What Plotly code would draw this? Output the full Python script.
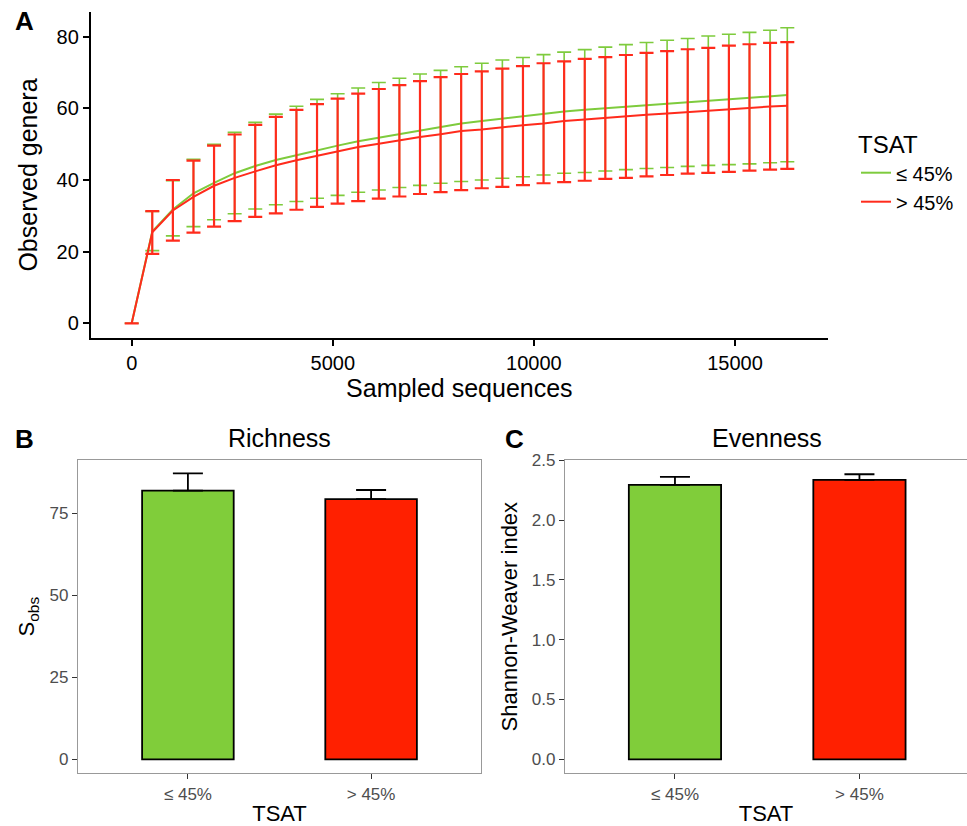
import plotly.graph_objects as go

W, H = 967, 826

# ---------------- Panel A data (rarefaction) ----------------
seqs = [0, 512, 1024, 1536, 2048, 2560, 3072, 3584, 4096, 4608, 5120, 5632, 6144, 6656,
        7168, 7680, 8192, 8704, 9216, 9728, 10240, 10752, 11264, 11776, 12288, 12800,
        13312, 13824, 14336, 14848, 15360, 15872, 16300]

low_mean = [0, 25.6, 31.8, 36.3, 39.2, 41.9, 43.9, 45.6, 46.9, 48.3, 49.6, 50.8, 51.8, 52.9,
            53.9, 54.9, 55.8, 56.5, 57.2, 57.9, 58.4, 59.1, 59.6, 60.1, 60.5, 60.9,
            61.3, 61.7, 62.0, 62.4, 62.8, 63.4, 63.7]
low_lower = [0, 20.3, 24.4, 27.0, 28.9, 30.6, 31.9, 33.1, 34.0, 34.9, 35.7, 36.6, 37.2, 37.9,
             38.5, 39.1, 39.6, 40.0, 40.5, 40.9, 41.4, 41.9, 42.1, 42.5, 42.9, 43.2,
             43.5, 43.8, 44.1, 44.3, 44.5, 44.8, 45.1]
low_upper = [0, 31.2, 39.8, 45.8, 50.0, 53.3, 56.1, 58.4, 60.6, 62.5, 64.1, 65.7, 67.2, 68.4,
             69.6, 70.6, 71.6, 72.6, 73.5, 74.2, 75.0, 75.7, 76.4, 77.1, 77.8, 78.4,
             79.0, 79.5, 80.2, 80.7, 81.2, 81.8, 82.5]

high_mean = [0, 25.4, 31.5, 35.3, 38.4, 40.6, 42.4, 44.1, 45.5, 46.8, 48.0, 49.2, 50.1, 51.1,
             52.0, 52.8, 53.7, 54.1, 54.8, 55.3, 55.8, 56.5, 56.9, 57.4, 57.9, 58.2,
             58.6, 59.0, 59.3, 59.6, 60.0, 60.5, 60.7]
high_lower = [0, 19.4, 23.1, 25.3, 27.0, 28.5, 29.7, 30.7, 31.7, 32.5, 33.4, 34.1, 34.8, 35.4,
              36.1, 36.6, 37.2, 37.7, 38.1, 38.6, 39.1, 39.4, 39.8, 40.3, 40.6, 41.0,
              41.4, 41.8, 42.0, 42.3, 42.6, 42.9, 43.1]
high_upper = [0, 31.3, 40.0, 45.4, 49.6, 52.7, 55.4, 57.6, 59.6, 61.2, 62.7, 64.1, 65.4, 66.5,
              67.6, 68.7, 69.6, 70.3, 71.1, 71.8, 72.6, 73.1, 73.8, 74.3, 74.9, 75.5,
              76.0, 76.5, 76.9, 77.5, 77.9, 78.3, 78.5]

groups = ["≤ 45%", "> 45%"]
a_xticks = [0, 5000, 10000, 15000]
a_yticks = [0, 20, 40, 60, 80]

# ---------------- Panel B / C data ----------------
richness = [81.9, 79.3]
richness_err = [5.3, 2.8]
evenness = [2.294, 2.336]
evenness_err = [0.067, 0.047]
b_yticks = [0, 25, 50, 75]
c_yticks = [0.0, 0.5, 1.0, 1.5, 2.0, 2.5]

LINE_GREEN = "#7ECB3D"
LINE_RED = "#FF2B1C"
BAR_GREEN = "#80CD3A"
BAR_RED = "#FF2000"
FONT = "Liberation Sans, Arial, Helvetica, sans-serif"


def px_x(p):
    return p / W


def px_y(p):
    return 1 - p / H


fig = go.Figure()

for name, m, lo, up, col, eth in [
    (groups[0], low_mean, low_lower, low_upper, LINE_GREEN, 1.6),
    (groups[1], high_mean, high_lower, high_upper, LINE_RED, 2.2),
]:
    fig.add_trace(go.Scatter(
        x=seqs, y=m, mode="lines", name=name,
        line=dict(color=col, width=2),
        error_y=dict(type="data", symmetric=False,
                     array=[u - v for u, v in zip(up, m)],
                     arrayminus=[v - l for v, l in zip(m, lo)],
                     color=col, thickness=eth, width=7),
        xaxis="x", yaxis="y", showlegend=True,
    ))

fig.add_trace(go.Bar(
    x=groups, y=richness, marker=dict(color=[BAR_GREEN, BAR_RED], line=dict(color="black", width=1.8)),
    width=0.5,
    error_y=dict(type="data", symmetric=False, array=richness_err, arrayminus=[0, 0],
                 color="black", thickness=1.8, width=15),
    xaxis="x2", yaxis="y2", showlegend=False,
))
fig.add_trace(go.Bar(
    x=groups, y=evenness, marker=dict(color=[BAR_GREEN, BAR_RED], line=dict(color="black", width=1.8)),
    width=0.5,
    error_y=dict(type="data", symmetric=False, array=evenness_err, arrayminus=[0, 0],
                 color="black", thickness=1.8, width=15),
    xaxis="x3", yaxis="y3", showlegend=False,
))

axA = dict(showline=True, linecolor="black", linewidth=1.8, ticks="outside", ticklen=6,
           tickwidth=1.5, tickcolor="black", tickfont=dict(size=20, color="black", family=FONT),
           showgrid=False, zeroline=False, automargin=False)
axB = dict(showline=True, linecolor="#999999", linewidth=1.3, mirror=True, ticks="outside", ticklen=5,
           tickwidth=1.3, tickcolor="#333333", tickfont=dict(size=17, color="#4D4D4D", family=FONT),
           showgrid=False, zeroline=False, automargin=False)


def label(text, x, y, size):
    return dict(text=text, x=px_x(x), y=px_y(y), xref="paper", yref="paper",
                xanchor="center", yanchor="middle", showarrow=False, font=dict(size=size))


fig.update_layout(
    width=W, height=H, margin=dict(l=0, r=0, t=0, b=0, autoexpand=False),
    paper_bgcolor="white", plot_bgcolor="white",
    font=dict(family=FONT, color="black"),
    xaxis=dict(axA, domain=[px_x(90.7), px_x(828)], range=[-1019, 17312], tickvals=a_xticks,
               tickformat="d",
               anchor="y", title=dict(text="Sampled sequences", font=dict(size=25), standoff=4)),
    yaxis=dict(axA, domain=[px_y(338), px_y(12)], range=[-4.1, 86.9], tickvals=a_yticks,
               anchor="x", title=dict(text="Observed genera", font=dict(size=25), standoff=12)),
    xaxis2=dict(axB, domain=[px_x(78), px_x(481)], range=[-0.6, 1.6], type="category",
                anchor="y2", title=dict(text="TSAT", font=dict(size=22), standoff=4)),
    yaxis2=dict(axB, domain=[px_y(773.3), px_y(460)], range=[-4.27, 91.25], tickvals=b_yticks,
                anchor="x2", title=dict(text="S<sub>obs</sub>", font=dict(size=22), standoff=8)),
    xaxis3=dict(axB, domain=[px_x(565), 1.0], range=[-0.596, 1.583], type="category",
                anchor="y3", title=dict(text="TSAT", font=dict(size=22), standoff=4)),
    yaxis3=dict(axB, domain=[px_y(773.3), px_y(460)], range=[-0.117, 2.502], tickvals=c_yticks,
                tickformat=".1f", mirror=False,
                anchor="x3", title=dict(text="Shannon-Weaver index", font=dict(size=22), standoff=8)),
    legend=dict(x=px_x(856), y=px_y(122), xanchor="left", yanchor="top",
                title=dict(text="TSAT", font=dict(size=24)),
                font=dict(size=20), bgcolor="rgba(0,0,0,0)", tracegroupgap=0),
    annotations=[
        label("<b>A</b>", 24, 21, 26),
        label("<b>B</b>", 24, 439, 26),
        label("<b>C</b>", 514, 439, 26),
        label("Richness", 279.5, 438, 25),
        label("Evenness", 767, 438, 25),
    ],
)

fig.write_html("out.html", config={"displayModeBar": False},
               post_script="document.body.style.margin='0px';document.body.style.overflow='hidden';")
